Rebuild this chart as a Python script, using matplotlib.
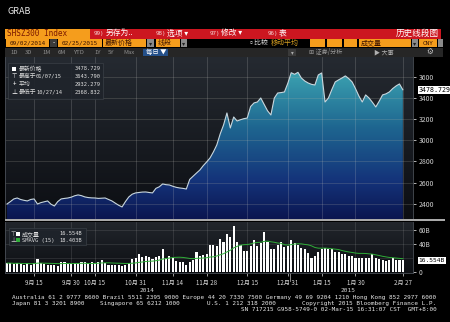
"""
Bloomberg GP style screen of the CSI 300 (SHSZ300 Index), Sep 2014 - Feb 2015.
Top: price line with gradient area. Bottom: daily volume + 15 day SMAVG.
"""
import matplotlib
matplotlib.use("Agg")
import matplotlib.pyplot as plt
import numpy as np
import pandas as pd
from matplotlib.colors import LinearSegmentedColormap
from matplotlib.patches import Polygon, Rectangle
from matplotlib.transforms import blended_transform_factory

plt.rcParams["font.family"] = ["Noto Sans CJK SC", "DejaVu Sans"]
MONO = ["DejaVu Sans Mono", "Noto Sans CJK SC"]

W, H = 450, 322
RED = "#cc1620"
ORANGE = "#f59d1c"
DARK_TXT = "#3b1300"

# daily close, one value per trading day
PRICE = [
    2397, 2420, 2445, 2454, 2440, 2432, 2426, 2440, 2445, 2397,
    2410, 2418, 2426, 2395, 2378, 2420, 2445, 2450, 2454, 2462,
    2475, 2483, 2476, 2464, 2458, 2455, 2454, 2450, 2452, 2454,
    2440, 2426, 2405, 2385, 2369, 2420, 2464, 2490, 2502, 2506,
    2510, 2511, 2506, 2502, 2545, 2560, 2587, 2580, 2577, 2565,
    2555, 2549, 2545, 2539, 2630, 2660, 2690, 2719, 2760, 2795,
    2833, 2890, 2956, 3060, 3145, 3259, 3117, 3221, 3183, 3195,
    3205, 3211, 3320, 3354, 3363, 3401, 3340, 3280, 3240, 3400,
    3448, 3452, 3458, 3540, 3640, 3625, 3644, 3590, 3562, 3543,
    3530, 3524, 3619, 3638, 3363, 3401, 3480, 3553, 3572, 3590,
    3610, 3585, 3553, 3490, 3420, 3363, 3430, 3401, 3360, 3316,
    3370, 3430, 3440, 3458, 3490, 3515, 3534, 3478.729,
]

# daily volume, billions
VOLUME_B = [
    12.7, 12.7, 11.7, 12.7, 11.7, 10.7, 12.7, 10.7, 12.7, 18.5,
    12.7, 11.7, 10.7, 10.7, 10.7, 8.8, 13.7, 13.7, 11.7, 11.7,
    12.7, 12.7, 13.7, 14.6, 12.7, 13.7, 12.7, 14.6, 16.6, 12.7,
    9.8, 9.8, 10.7, 9.8, 8.8, 10.7, 12.7, 18.5, 20.5, 25.4,
    21.5, 22.4, 21.5, 18.5, 21.5, 22.4, 33.2, 19.5, 22.4, 19.5,
    15.6, 14.6, 13.7, 10.7, 13.7, 17.6, 28.3, 23.4, 24.4, 26.3,
    38.0, 38.0, 37.1, 47.8, 42.9, 53.7, 49.8, 65.4, 42.9, 38.0,
    30.2, 30.2, 37.1, 45.4, 37.1, 42.0, 56.6, 42.9, 33.2, 32.2,
    38.0, 42.9, 35.6, 37.1, 46.3, 42.0, 38.0, 34.1, 33.2, 27.3,
    20.5, 22.4, 28.3, 32.2, 34.1, 33.2, 33.2, 28.3, 28.3, 25.4,
    25.4, 23.4, 23.4, 20.5, 20.5, 20.5, 20.5, 20.5, 25.4, 19.5,
    18.5, 16.6, 15.6, 16.6, 20.5, 16.6, 16.6, 16.554,
]

TICK_DAYS = [8, 19, 26, 38, 49, 59, 71, 83, 93, 103, 117]
TICK_LABELS = ["9月 15", "9月 30", "10月 15", "10月 31", "11月 14", "11月 28",
               "12月 15", "12月 31", "1月 15", "1月 30", "2月 27"]
FIRST_2015 = 84
YEARS = ["2014", "2015"]

PRICE_TICKS = [2400, 2600, 2800, 3000, 3200, 3400, 3600]
VOL_TICKS = [0, 40, 60]
VOL_TICK_LABELS = ["0", "40B", "60B"]

LAST_PRICE = 3478.729
HIGH, HIGH_DATE = 3643.790, "01/07/15"
AVG = 2932.279
LOW, LOW_DATE = 2368.832, "10/27/14"
LAST_VOL = 16.554
SMAVG_LAST = 18.403
SMA_N = 15

FOOTER_1 = ("Australia 61 2 9777 8600 Brazil 5511 2395 9000 Europe 44 20 7330 7500 "
            "Germany 49 69 9204 1210 Hong Kong 852 2977 6000")
FOOTER_2 = [(12, "Japan 81 3 3201 8900"), (100, "Singapore 65 6212 1000"),
            (207, "U.S. 1 212 318 2000"), (302, "Copyright 2015 Bloomberg Finance L.P.")]
FOOTER_3 = "SN 717215 G958-5749-0 02-Mar-15 16:31:07 CST  GMT+8:00"


def frac(x0, y0, x1, y1):
    """pixel box (y from top) -> figure fraction rect"""
    return [x0 / W, 1 - y1 / H, (x1 - x0) / W, (y1 - y0) / H]


def box(fig, x0, y0, x1, y1, color, ec="none", alpha=1.0):
    fig.add_artist(Rectangle((x0 / W, 1 - y1 / H), (x1 - x0) / W, (y1 - y0) / H,
                             transform=fig.transFigure, facecolor=color,
                             edgecolor=ec, lw=0.5, alpha=alpha))


def label(fig, x, y, s, size=5, color="white", **kw):
    fig.text(x / W, 1 - y / H, s, fontsize=size, color=color, va="center", **kw)


def vgradient(ax, top, bottom, extent, zorder=0):
    cmap = LinearSegmentedColormap.from_list("g", [top, bottom]) if isinstance(top, str) else top
    im = ax.imshow(np.linspace(0, 1, 256)[:, None], cmap=cmap, extent=extent,
                   aspect="auto", zorder=zorder, interpolation="bilinear")
    return im


def draw_header(fig):
    label(fig, 8, 11, "GRAB", size=6.5, color="#e8e8e8")

    # row 1: red command bar
    box(fig, 5, 28.5, 441, 38.5, RED)
    box(fig, 5, 28.5, 90, 38.5, ORANGE)
    label(fig, 7, 33.6, "SHSZ300 Index", size=5.6, color="#7a1800", family=MONO)
    for x, s in [(94, "99)"), (156, "98)"), (210, "97)"), (268, "96)")]:
        label(fig, x, 33.6, s, size=4.2, color="#f2d0d0", family=MONO)
    for x, s in [(106, "另存为.."), (167, "选项 ▾"), (221, "修改 ▾"), (279, "表")]:
        label(fig, x, 33.4, s, size=5.6)
    label(fig, 439, 33.4, "历史线段图", size=6.2, ha="right")

    # row 2: dates / fields
    yc = 43.2
    for x0, x1, s in [(6, 49, "09/02/2014"), (58, 102, "02/25/2015")]:
        box(fig, x0, 39.2, x1, 47.3, ORANGE)
        label(fig, (x0 + x1) / 2, yc, s, size=4.3, color=DARK_TXT, ha="center", family=MONO)
    box(fig, 50, 39.2, 57, 47.3, "#3a3a3a")
    label(fig, 53.5, yc, "-", size=4.5, ha="center")
    box(fig, 103, 39.2, 146, 47.3, ORANGE)
    label(fig, 105, yc, "最新价格", size=5, color=DARK_TXT)
    box(fig, 147, 39.2, 154, 47.3, "#8a8a8a")
    label(fig, 150.5, yc, "▾", size=4.5, color="#222222", ha="center")
    box(fig, 156, 39.2, 180, 47.3, ORANGE)
    label(fig, 158, yc, "线段", size=5, color=DARK_TXT)
    box(fig, 181, 39.2, 187, 47.3, "#8a8a8a")
    label(fig, 184, yc, "▾", size=4.5, color="#222222", ha="center")
    label(fig, 247, yc, "▫比较", size=5, color="#d8d8d8")
    label(fig, 271, yc, "移动平均", size=5, color="#d9a020")
    for x0, x1 in [(310, 325), (327, 342), (344, 357)]:
        box(fig, x0, 39.2, x1, 47.3, ORANGE)
    box(fig, 359, 39.2, 411, 47.3, ORANGE)
    label(fig, 361, yc, "成交量", size=5, color=DARK_TXT)
    box(fig, 412, 39.2, 418, 47.3, "#8a8a8a")
    label(fig, 415, yc, "▾", size=4.5, color="#222222", ha="center")
    box(fig, 419, 39.2, 437, 47.3, ORANGE)
    label(fig, 428, yc, "CNY", size=4.3, color=DARK_TXT, ha="center", family=MONO)
    box(fig, 438, 39.2, 443, 47.3, "#8a8a8a")

    # row 3: range buttons
    box(fig, 5, 48.2, 443, 56.5, "#262626")
    for x, s in [(10, "1D"), (25, "3D"), (42, "1M"), (58, "6M"), (73, "YTD"),
                 (94, "1Y"), (108, "5Y"), (123, "Max")]:
        label(fig, x, 52.4, s, size=4.3, color="#8e8e8e")
    box(fig, 143, 48.6, 168, 56.2, "#24508a")
    label(fig, 146, 52.4, "每日 ▼", size=4.6, color="white")
    box(fig, 288, 48.6, 296, 56.2, "#3a3a3a")
    label(fig, 292, 52.4, "▾", size=4, color="#aaaaaa", ha="center")
    label(fig, 309, 52.4, "⊞ 证券/分析", size=4.4, color="#9a9a9a")
    label(fig, 374, 52.4, "▶ 大事", size=4.4, color="#b0b0b0")
    label(fig, 430, 52.4, "⚙", size=5.5, color="#c0c0c0", ha="center")


def draw_price(fig, x, price):
    ax = fig.add_axes(frac(5, 57, 413, 219))
    x0, x1 = -0.6, 120
    y0, y1 = 2255, 3789
    ax.set_facecolor("#101318")

    vgradient(ax, "#252a31", "#0c0e13", (x0, x1, y0, y1), zorder=0)

    fill_cmap = LinearSegmentedColormap.from_list(
        "fill", [(0, "#3ea8b4"), (0.4, "#1e6690"), (0.75, "#14337a"), (1, "#0b1650")])
    im = vgradient(ax, fill_cmap, None, (x0, x1, y0, 3700), zorder=1)
    verts = [(x[0], y0)] + list(zip(x, price)) + [(x[-1], y0)]
    clip = Polygon(verts, closed=True, transform=ax.transData, fc="none", ec="none")
    ax.add_patch(clip)
    im.set_clip_path(clip)

    for p in PRICE_TICKS:
        ax.axhline(p, color="#b8b8a8", alpha=0.28, lw=0.5, zorder=2)
    for d in TICK_DAYS:
        ax.axvline(d, color="#c8c8c8", alpha=0.28, lw=0.5, zorder=2)

    ax.plot(x, price, color="#c9d7de", lw=0.8, zorder=3)

    ax.set_xlim(x0, x1)
    ax.set_ylim(y0, y1)
    ax.set_xticks([])
    ax.yaxis.tick_right()
    ax.set_yticks(PRICE_TICKS)
    ax.set_yticklabels([str(p) for p in PRICE_TICKS])
    ax.tick_params(axis="y", colors="#cfcfcf", labelsize=5, length=2, width=0.6, pad=2)
    for sp in ax.spines.values():
        sp.set_color("#4a4f57")
        sp.set_linewidth(0.6)
    ax.spines["top"].set_visible(False)

    ax.annotate(f"{LAST_PRICE:.3f}", xy=(1, LAST_PRICE), xycoords=("axes fraction", "data"),
                xytext=(4, 0), textcoords="offset points", va="center", ha="left",
                fontsize=4.8, color="black", family=MONO, annotation_clip=False,
                bbox=dict(boxstyle="square,pad=0.15", fc="white", ec="none"))

    # legend box
    box(fig, 8, 63, 103, 99, "#1f242b", ec="#3c4249", alpha=0.92)
    box(fig, 12, 67, 16, 71, "white")
    rows = [(69, "", "最新价格", "", f"{LAST_PRICE:.3f}"),
            (76.5, "⊤", "最高于", HIGH_DATE, f"{HIGH:.3f}"),
            (84, "+", "平均", "", f"{AVG:.3f}"),
            (92, "⊥", "最低于", LOW_DATE, f"{LOW:.3f}")]
    for y, sym, name, date, val in rows:
        if sym:
            label(fig, 14, y, sym, size=4.4, color="white", ha="center")
        label(fig, 19, y, name, size=4.2, color="#e0e0e0")
        if date:
            label(fig, 36, y, date, size=3.9, color="#e0e0e0", family=MONO)
        label(fig, 101, y, val, size=3.9, color="#e0e0e0", ha="right", family=MONO)


def draw_volume(fig, x, vol):
    ax = fig.add_axes(frac(5, 222, 413, 273))
    x0, x1 = -0.6, 120
    y0, y1 = -1.4, 71.4
    vgradient(ax, "#22262c", "#0d0f13", (x0, x1, y0, y1), zorder=0)
    for v in [20, 40, 60]:
        ax.axhline(v, color="#b8b8b8", alpha=0.2, lw=0.5, zorder=1)
    for d in TICK_DAYS:
        ax.axvline(d, color="#c8c8c8", alpha=0.2, lw=0.5, zorder=1)

    ax.bar(x, vol, width=0.62, color="white", lw=0, zorder=2)
    sma = pd.Series(vol).rolling(SMA_N, min_periods=1).mean()
    ax.plot(x, sma, color="#2fae38", lw=0.7, zorder=3)

    ax.set_xlim(x0, x1)
    ax.set_ylim(y0, y1)
    ax.yaxis.tick_right()
    ax.set_yticks(VOL_TICKS)
    ax.set_yticklabels(VOL_TICK_LABELS)
    ax.tick_params(axis="y", colors="#cfcfcf", labelsize=4.8, length=2, width=0.6, pad=2)
    ax.set_xticks(TICK_DAYS)
    ax.set_xticklabels(TICK_LABELS)
    ax.tick_params(axis="x", colors="#d8d8d8", labelsize=4.4, length=2.5, width=0.5, pad=2)
    for sp in ax.spines.values():
        sp.set_color("#4a4f57")
        sp.set_linewidth(0.6)
    ax.spines["top"].set_visible(False)

    # year labels centred on each year's span, with a divider tick
    tr = blended_transform_factory(ax.transData, ax.transAxes)
    split = FIRST_2015 - 0.5
    ax.plot([split, split], [0, -0.16], transform=tr, clip_on=False, color="#9a9a9a", lw=0.6)
    for yr, mid in zip(YEARS, [(x0 + split) / 2, (split + x[-1] + 1) / 2]):
        ax.text(mid, -0.35, yr, transform=tr, fontsize=4.4, color="#d8d8d8",
                ha="center", va="center", family=MONO)

    ax.annotate(f"{LAST_VOL:.3f}B", xy=(1, LAST_VOL), xycoords=("axes fraction", "data"),
                xytext=(4, 0), textcoords="offset points", va="center", ha="left",
                fontsize=4.5, color="black", family=MONO, annotation_clip=False,
                bbox=dict(boxstyle="square,pad=0.15", fc="white", ec="none"))

    box(fig, 9, 228, 86, 245, "#1f242b", ec="#3c4249", alpha=0.9)
    label(fig, 13, 233.7, "⊤", size=4.4, color="#cccccc", ha="center")
    label(fig, 13, 240.3, "⊥", size=4.4, color="#cccccc", ha="center")
    box(fig, 16, 231.6, 20.2, 235.8, "white")
    box(fig, 16, 238.2, 20.2, 242.4, "#2fae38")
    label(fig, 22, 233.7, "成交量", size=4.3, color="#e0e0e0")
    label(fig, 22, 240.3, f"SMAVG ({SMA_N})", size=3.9, color="#e0e0e0", family=MONO)
    label(fig, 82, 233.7, f"{LAST_VOL:.3f}B", size=3.9, color="#e0e0e0", ha="right", family=MONO)
    label(fig, 82, 240.3, f"{SMAVG_LAST:.3f}B", size=3.9, color="#e0e0e0", ha="right", family=MONO)


def draw_footer(fig):
    label(fig, 12, 297.3, FOOTER_1, size=4.35, color="#e8e8e8", family=MONO)
    for x, s in FOOTER_2:
        label(fig, x, 303.4, s, size=4.35, color="#e8e8e8", family=MONO)
    label(fig, 437, 309.6, FOOTER_3, size=4.35, color="#e8e8e8", family=MONO, ha="right")


def main():
    fig = plt.figure(figsize=(W / 100, H / 100), dpi=100, facecolor="black")
    x = np.arange(len(PRICE))
    draw_header(fig)
    draw_price(fig, x, np.array(PRICE))
    draw_volume(fig, x, np.array(VOLUME_B))
    box(fig, 5, 218.6, 445, 220.6, "#a9a9a9")
    draw_footer(fig)
    fig.savefig("out.png", dpi=100, facecolor="black")
    plt.close(fig)


if __name__ == "__main__":
    main()
